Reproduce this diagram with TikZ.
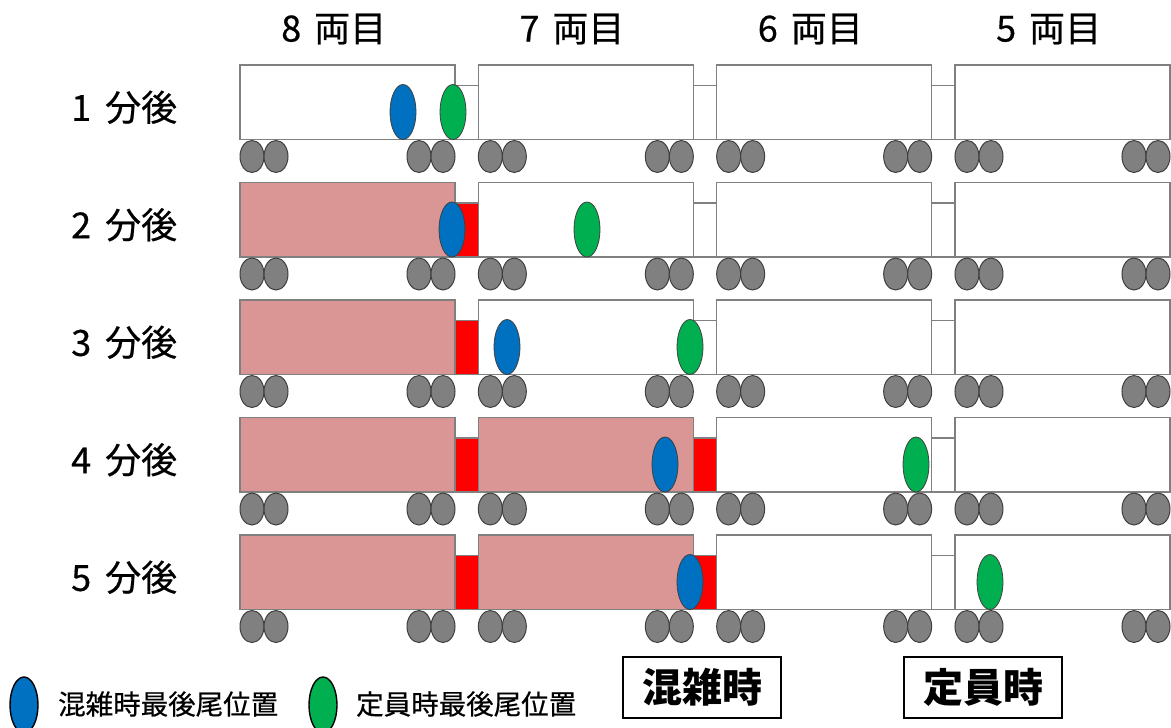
\documentclass[tikz,border=0pt]{standalone}
\usepackage{fontspec}
\newfontfamily\jp{Noto Sans CJK JP}
\newfontfamily\jpm[FakeBold=0.5]{Noto Sans CJK JP}
\usetikzlibrary{shapes.geometric}
\definecolor{carline}{HTML}{808080}
\definecolor{pinkcar}{HTML}{D99694}
\definecolor{wheelfill}{HTML}{808080}
\definecolor{wheelline}{HTML}{3F3F3F}
\definecolor{bluem}{HTML}{0070C0}
\definecolor{greenm}{HTML}{00B050}
\begin{document}
\begin{tikzpicture}[x=1pt,y=-1pt,
  car/.style={rectangle, draw=carline, line width=1.3pt, fill=white, minimum width=215pt, minimum height=74.5pt, inner sep=0pt, outer sep=0pt},
  jam/.style={car, fill=pinkcar},
  gway/.style={rectangle, draw=carline, line width=1.3pt, fill=white, minimum width=24pt, minimum height=54pt, inner sep=0pt, outer sep=0pt},
  redgway/.style={gway, fill=red},
  wheel/.style={ellipse, draw=wheelline, fill=wheelfill, line width=1pt, minimum width=24pt, minimum height=32pt, inner sep=0pt},
  marker/.style={ellipse, draw=black!75, line width=0.8pt, minimum width=26pt, minimum height=55pt, inner sep=0pt},
  bluemark/.style={marker, fill=bluem},
  greenmark/.style={marker, fill=greenm},
  rowlabel/.style={anchor=west, inner sep=0pt, font=\jpm\fontsize{36}{42}\selectfont},
  header/.style={anchor=west, inner sep=0pt, font=\jpm\fontsize{36}{42}\selectfont},
  legendtext/.style={anchor=west, inner sep=0pt, font=\jpm\fontsize{27.5}{32}\selectfont},
  legendmark/.style={ellipse, draw=black, line width=1.4pt, minimum width=28pt, minimum height=56pt, inner sep=0pt},
  modebox/.style={rectangle, draw=black, line width=1.8pt, minimum width=158pt, minimum height=61pt, inner sep=0pt, font=\jp\bfseries\fontsize{40}{46}\selectfont}
]
\useasboundingbox (0,0) rectangle (1171,728);

% column headers
\foreach \i/\n in {0/8,1/7,2/6,3/5}{
  \pgfmathsetmacro\hx{281+238.33*\i}
  \node[header] (head\n) at (\hx,29) {\n\hspace{13pt}両目};
}

\foreach \r/\np/\bx/\gx in {1/0/403/453, 2/1/452/587, 3/1/507/690, 4/2/665/916, 5/2/690/990}{
  \pgfmathsetmacro\tp{65+117.5*(\r-1)}
  \pgfmathsetmacro\cy{\tp+37.25}
  \pgfmathsetmacro\gy{\tp+47.5}
  \pgfmathsetmacro\wy{\tp+91.5}
  \pgfmathsetmacro\my{\tp+47}
  % row label
  \node[rowlabel] (lab\r) at (71,\cy+5) {\r\hspace{14pt}分後};
  % gangways
  \foreach \i in {0,1,2}{
    \pgfmathsetmacro\gwx{240+238.33*\i+215+11.67}
    \def\gsty{gway}
    \ifnum\i<\np\relax\def\gsty{redgway}\fi
    \node[\gsty] (gw\r-\i) at (\gwx,\gy) {};
  }
  % cars
  \foreach \i in {0,1,2,3}{
    \pgfmathsetmacro\cx{240+238.33*\i+107.5}
    \def\csty{car}
    \ifnum\i<\np\relax\def\csty{jam}\fi
    \node[\csty] (car\r-\i) at (\cx,\cy) {};
  }
  % wheels
  \foreach \i in {0,1,2,3}{
    \pgfmathsetmacro\lx{240+238.33*\i}
    \node[wheel] (wa\r-\i) at (\lx+12,\wy) {};
    \node[wheel] (wb\r-\i) at (\lx+36,\wy) {};
    \node[wheel] (wc\r-\i) at (\lx+179,\wy) {};
    \node[wheel] (wd\r-\i) at (\lx+203,\wy) {};
  }
  % markers
  \node[bluemark] (blue\r) at (\bx,\my) {};
  \node[greenmark] (green\r) at (\gx,\my) {};
}

% legend
\node[legendmark, fill=bluem] (legblue) at (24,705) {};
\node[legendtext] (legbluetext) at (58,704) {混雑時最後尾位置};
\node[legendmark, fill=greenm] (leggreen) at (323,705) {};
\node[legendtext] (leggreentext) at (356,704) {定員時最後尾位置};

% mode boxes
\node[modebox] (jambox) at (702,687.5) {混雑時};
\node[modebox] (capbox) at (983,687.5) {定員時};
\end{tikzpicture}
\end{document}
